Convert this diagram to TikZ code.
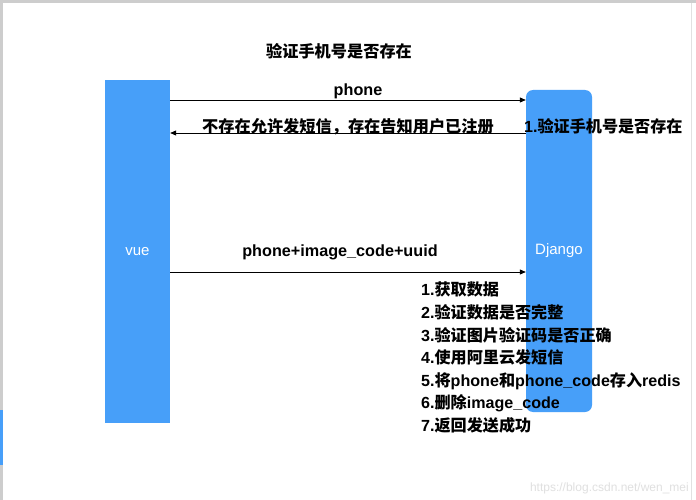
\documentclass[tikz,border=0pt]{standalone}
\usepackage{fontspec}
\setmainfont{Liberation Sans}
\newfontfamily\cjk{Noto Sans CJK SC}
\usetikzlibrary{arrows.meta}
\definecolor{boxblue}{RGB}{71,159,249}
\definecolor{frame}{RGB}{205,205,205}
\tikzset{
  lifebox/.style={fill=boxblue, draw=none, inner sep=0pt, text=white, font=\fontsize{15}{17}\selectfont},
  msg/.style={draw=black, line width=0.8pt, -{Triangle[length=6pt,width=5pt]}},
  lbl/.style={inner sep=0pt, yshift=-1.5pt, font=\bfseries\fontsize{16.2}{20}\selectfont},
  item/.style={inner sep=0pt, anchor=west, yshift=-1pt, font=\bfseries\fontsize{16.1}{20}\selectfont},
}
\begin{document}
\begin{tikzpicture}[x=1pt,y=-1pt]
\useasboundingbox (0,0) rectangle (696,500);
\fill[white] (0,0) rectangle (696,500);
% screenshot frame
\fill[frame] (0,0) rectangle (696,3);
\fill[frame] (0,0) rectangle (3,500);
\fill[boxblue] (0,410) rectangle (3,465);
\draw[frame!60, line width=0.6pt] (691,3) -- (691,500);

\node[lbl] (title) at (339,50) {\cjk\bfseries 验证手机号是否存在};

\node[lifebox, minimum width=65pt, minimum height=343pt] (vue) at (137.5,251.5) {\raisebox{-2.5pt}{vue}};
\node[lifebox, rounded corners=7pt, minimum width=66pt, minimum height=322pt] (dj) at (559,251) {\raisebox{-1.5pt}{Django}};

\draw[msg] (vue.east |- 0,100) -- (dj.west |- 0,100);
\node[lbl] (l1) at (358,90) {phone};

\draw[msg] (dj.west |- 0,133) -- (vue.east |- 0,133);
\node[lbl] (l2) at (348,125) {\cjk\bfseries 不存在允许发短信，存在告知用户已注册};
\node[item] (l3) at (524,125) {1.{\cjk\bfseries 验证手机号是否存在}};

\draw[msg] (vue.east |- 0,272) -- (dj.west |- 0,272);
\node[lbl] (l4) at (340,251) {phone+image\_code+uuid};

\node[item] (s1) at (421,288) {1.{\cjk\bfseries 获取数据}};
\node[item] (s2) at (421,311) {2.{\cjk\bfseries 验证数据是否完整}};
\node[item] (s3) at (421,334) {3.{\cjk\bfseries 验证图片验证码是否正确}};
\node[item] (s4) at (421,356) {4.{\cjk\bfseries 使用阿里云发短信}};
\node[item] (s5) at (421,380) {5.{\cjk\bfseries 将}phone{\cjk\bfseries 和}phone\_code{\cjk\bfseries 存入}redis};
\node[item] (s6) at (421,402) {6.{\cjk\bfseries 删除}image\_code};
\node[item] (s7) at (421,424) {7.{\cjk\bfseries 返回发送成功}};

\node[inner sep=0pt, anchor=east, text=black!12, font=\fontsize{12}{14}\selectfont] (wm) at (689,488) {https://blog.csdn.net/wen\_mei};
\end{tikzpicture}
\end{document}
